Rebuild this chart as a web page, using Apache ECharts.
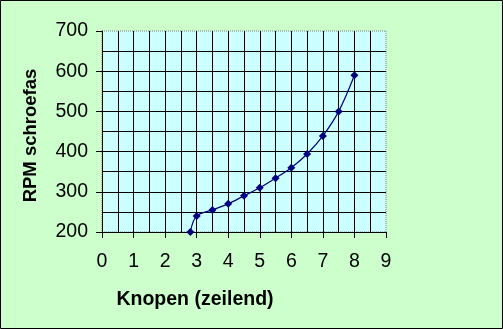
<!DOCTYPE html>
<html><head><meta charset="utf-8">
<script src="https://cdn.jsdelivr.net/npm/echarts@6/dist/echarts.min.js"></script>
<style>html,body{margin:0;padding:0;background:#CCFFCC}#c{width:503px;height:329px}</style>
</head><body><div id="c"></div>
<script>
const knots = [2.8, 3, 3.5, 4, 4.5, 5, 5.5, 6, 6.5, 7, 7.5, 8];
const rpm = [200, 240, 255, 270, 290, 310, 334, 360, 394, 439, 500, 590];
const xTitle = 'Knopen (zeilend)';
const yTitle = 'RPM schroefas';
const font = 'Liberation Sans, Arial, sans-serif';
const chart = echarts.init(document.getElementById('c'));
chart.setOption({
  backgroundColor: '#CCFFCC',
  animation: false,
  graphic: [{type:'rect', shape:{x:0.5,y:0.5,width:502,height:328}, style:{fill:'none', stroke:'#000', lineWidth:1}, z:100}],
  grid: {left:102, top:31, width:284, height:201, show:true, backgroundColor:'#CCFFFF', borderColor:'#808080', borderWidth:1, borderType:'dotted'},
  xAxis: {
    type:'value', min:0, max:9, interval:1,
    name: xTitle, nameLocation:'middle', nameGap:58,
    nameTextStyle:{fontFamily:font, fontSize:19.5, fontWeight:'bold', color:'#000', padding:[0,98,0,0]},
    axisLine:{show:true, lineStyle:{color:'#000', width:1}},
    axisTick:{show:true, length:6, lineStyle:{color:'#000'}},
    axisLabel:{fontFamily:font, fontSize:19.5, color:'#000', margin:20},
    splitLine:{show:true, showMaxLine:false, lineStyle:{color:'#000', width:1}},
    minorTick:{show:false, splitNumber:2},
    minorSplitLine:{show:true, lineStyle:{color:'#000', width:1}}
  },
  yAxis: {
    type:'value', min:200, max:700, interval:100,
    name: yTitle, nameLocation:'middle', nameGap:62, nameRotate:90,
    nameTextStyle:{fontFamily:font, fontSize:18.5, fontWeight:'bold', color:'#000', padding:[0,8,0,0]},
    axisLine:{show:true, lineStyle:{color:'#000', width:1}},
    axisTick:{show:true, length:6, lineStyle:{color:'#000'}},
    axisLabel:{fontFamily:font, fontSize:19.5, color:'#000', margin:14},
    splitLine:{show:true, showMaxLine:false, lineStyle:{color:'#000', width:1}},
    minorTick:{show:false, splitNumber:2},
    minorSplitLine:{show:true, lineStyle:{color:'#000', width:1}}
  },
  series: [{
    type:'line', data: knots.map((k,i)=>[k, rpm[i]]),
    smooth:0.35, symbol:'diamond', symbolSize:8,
    lineStyle:{color:'#000080', width:1.2},
    itemStyle:{color:'#000080'}
  }]
});
</script></body></html>
